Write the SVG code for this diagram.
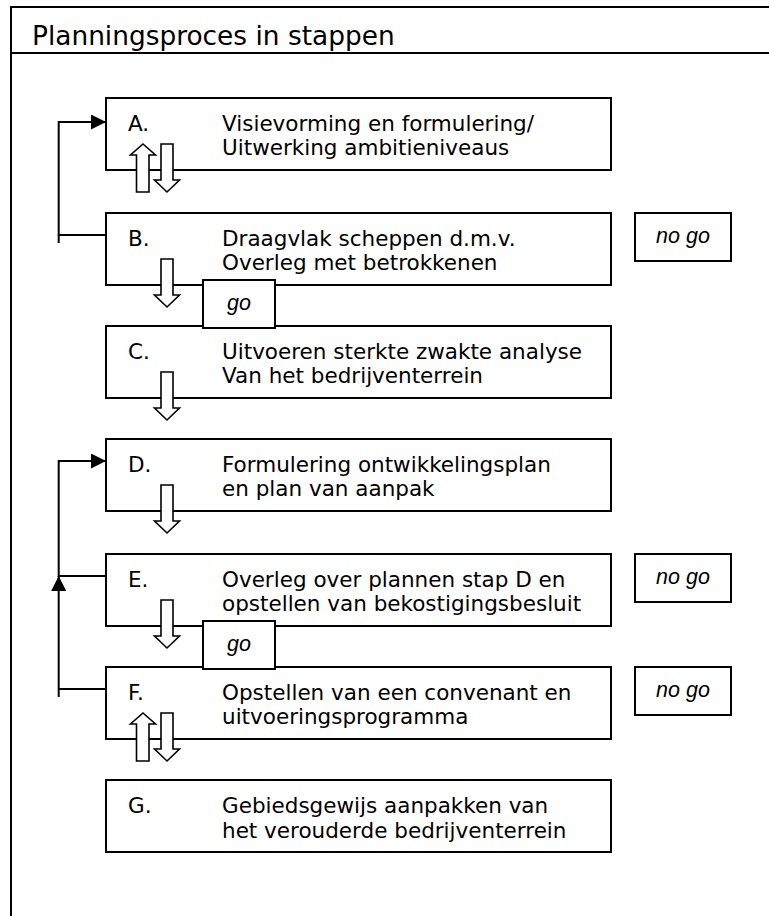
<svg xmlns="http://www.w3.org/2000/svg" width="769" height="916" viewBox="0 0 769 916">
<defs>
<style>
.frame{fill:none;stroke:#000;stroke-width:2}
.box{fill:#fff;stroke:#000;stroke-width:2}
.lbl{font-family:"DejaVu Sans",Verdana,sans-serif;font-size:21.5px;fill:#000}
.ttl{font-family:"DejaVu Sans",Verdana,sans-serif;font-size:26.4px;fill:#000}
.it{font-family:"Liberation Sans",Arial,sans-serif;font-size:21.5px;font-style:italic;fill:#000;text-anchor:middle}
.ln{fill:none;stroke:#000;stroke-width:2}
.blk{fill:#fff;stroke:#000;stroke-width:1.6;stroke-linejoin:miter}
</style>
<marker id="ah" viewBox="0 0 15 15" refX="15" refY="7.5" markerWidth="15" markerHeight="15" markerUnits="userSpaceOnUse" orient="auto">
<path d="M0 0 L15 7.5 L0 15 z" fill="#000"/>
</marker>
</defs>
<rect width="769" height="916" fill="#fff"/>
<g id="frame">
<path class="frame" d="M11 916 V7 H769 M11 53 H769"/>
<text class="ttl" x="32" y="45">Planningsproces in stappen</text>
</g>
<g id="node-A"><rect class="box" x="106" y="98" width="505" height="72"/>
<text class="lbl" x="128" y="131">A.</text><text class="lbl" x="222" y="131">Visievorming en formulering/</text><text class="lbl" x="222" y="155">Uitwerking ambitieniveaus</text></g>
<g id="node-B"><rect class="box" x="106" y="213" width="505" height="72"/>
<text class="lbl" x="128" y="246">B.</text><text class="lbl" x="222" y="246">Draagvlak scheppen d.m.v.</text><text class="lbl" x="222" y="270">Overleg met betrokkenen</text></g>
<g id="node-C"><rect class="box" x="106" y="326" width="505" height="72"/>
<text class="lbl" x="128" y="359">C.</text><text class="lbl" x="222" y="359">Uitvoeren sterkte zwakte analyse</text><text class="lbl" x="222" y="383">Van het bedrijventerrein</text></g>
<g id="node-D"><rect class="box" x="106" y="439" width="505" height="72"/>
<text class="lbl" x="128" y="472">D.</text><text class="lbl" x="222" y="472">Formulering ontwikkelingsplan</text><text class="lbl" x="222" y="496">en plan van aanpak</text></g>
<g id="node-E"><rect class="box" x="106" y="554" width="505" height="72"/>
<text class="lbl" x="128" y="587">E.</text><text class="lbl" x="222" y="587">Overleg over plannen stap D en</text><text class="lbl" x="222" y="611">opstellen van bekostigingsbesluit</text></g>
<g id="node-F"><rect class="box" x="106" y="667" width="505" height="72"/>
<text class="lbl" x="128" y="700">F.</text><text class="lbl" x="222" y="700">Opstellen van een convenant en</text><text class="lbl" x="222" y="724">uitvoeringsprogramma</text></g>
<g id="node-G"><rect class="box" x="106" y="780" width="505" height="72"/>
<text class="lbl" x="128" y="813">G.</text><text class="lbl" x="222" y="813">Gebiedsgewijs aanpakken van</text><text class="lbl" x="222" y="838">het verouderde bedrijventerrein</text></g>
<g id="nogo-B"><rect class="box" x="635" y="213" width="96" height="48"/><text class="it" x="683" y="243">no go</text></g>
<g id="nogo-E"><rect class="box" x="635" y="554" width="96" height="48"/><text class="it" x="683" y="584">no go</text></g>
<g id="nogo-F"><rect class="box" x="635" y="667" width="96" height="48"/><text class="it" x="683" y="697">no go</text></g>
<g id="connectors">
<path class="ln" d="M58.7 243 V235"/>
<path class="ln" d="M106 235 H58.7 V122 H106" marker-end="url(#ah)"/>
<path class="ln" d="M106 689 H58.7"/>
<path class="ln" d="M58.7 697 V576" marker-end="url(#ah)"/>
<path class="ln" d="M106 576 H58.7 V461 H106" marker-end="url(#ah)"/>
<polygon class="blk" points="143,144 155.5,155 149,155 149,192 136.5,192 136.5,155 130.5,155"/>
<polygon class="blk" points="161,144 173,144 173,180 179.5,180 167,192 154.5,180 161,180"/>
<polygon class="blk" points="161,259 173,259 173,295 179.5,295 167,307 154.5,295 161,295"/>
<polygon class="blk" points="161,372 173,372 173,408 179.5,408 167,420 154.5,408 161,408"/>
<polygon class="blk" points="161,485 173,485 173,521 179.5,521 167,533 154.5,521 161,521"/>
<polygon class="blk" points="161,600 173,600 173,636 179.5,636 167,648 154.5,636 161,636"/>
<polygon class="blk" points="143,713 155.5,724 149,724 149,761 136.5,761 136.5,724 130.5,724"/>
<polygon class="blk" points="161,713 173,713 173,749 179.5,749 167,761 154.5,749 161,749"/>
</g>
<g id="go-B"><rect class="box" x="203" y="280" width="72" height="48"/><text class="it" x="239" y="310">go</text></g>
<g id="go-E"><rect class="box" x="203" y="621" width="72" height="48"/><text class="it" x="239" y="651">go</text></g>
</svg>
